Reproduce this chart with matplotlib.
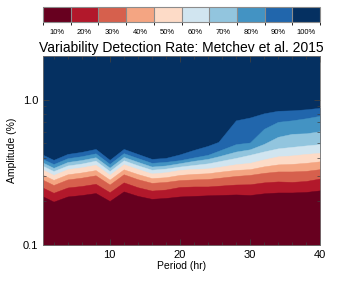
import matplotlib
matplotlib.use('Agg')
import matplotlib.pyplot as plt
import numpy as np
from matplotlib.colors import ListedColormap, BoundaryNorm
from matplotlib.cm import ScalarMappable
from matplotlib.ticker import MultipleLocator, FixedLocator, NullFormatter, FormatStrFormatter

plt.rcParams['font.family'] = ['Liberation Sans', 'DejaVu Sans']

# periods (hr) where the detection-rate contours were read
periods = [0.5, 2, 4, 6, 8, 10, 12, 14, 16, 18, 20, 22, 24, 25.5, 28, 30, 32, 34, 36, 38, 40]

# amplitude (%) of each detection-rate contour at those periods
amp_10 = [0.216, 0.199, 0.216, 0.221, 0.228, 0.201, 0.234, 0.218, 0.208, 0.211, 0.216,
          0.218, 0.220, 0.221, 0.223, 0.221, 0.227, 0.230, 0.230, 0.232, 0.238]
amp_20 = [0.248, 0.229, 0.249, 0.255, 0.264, 0.231, 0.270, 0.250, 0.237, 0.241, 0.251,
          0.253, 0.253, 0.256, 0.261, 0.262, 0.270, 0.274, 0.272, 0.276, 0.287]
amp_30 = [0.281, 0.259, 0.283, 0.291, 0.302, 0.261, 0.307, 0.284, 0.268, 0.272, 0.280,
          0.283, 0.285, 0.290, 0.299, 0.304, 0.314, 0.321, 0.321, 0.324, 0.333]
amp_40 = [0.304, 0.281, 0.307, 0.316, 0.328, 0.282, 0.332, 0.308, 0.289, 0.293, 0.304,
          0.309, 0.312, 0.319, 0.329, 0.333, 0.348, 0.359, 0.362, 0.368, 0.377]
amp_50 = [0.330, 0.304, 0.333, 0.343, 0.357, 0.305, 0.360, 0.334, 0.311, 0.317, 0.329,
          0.334, 0.337, 0.345, 0.360, 0.368, 0.389, 0.408, 0.414, 0.424, 0.431]
amp_60 = [0.350, 0.323, 0.353, 0.364, 0.381, 0.323, 0.383, 0.354, 0.330, 0.336, 0.347,
          0.356, 0.365, 0.377, 0.398, 0.418, 0.441, 0.463, 0.474, 0.485, 0.495]
amp_70 = [0.369, 0.340, 0.373, 0.385, 0.402, 0.341, 0.404, 0.374, 0.347, 0.353, 0.366,
          0.380, 0.392, 0.408, 0.440, 0.456, 0.497, 0.556, 0.583, 0.588, 0.607]
amp_80 = [0.390, 0.361, 0.396, 0.409, 0.428, 0.362, 0.429, 0.397, 0.368, 0.374, 0.384,
          0.401, 0.418, 0.445, 0.495, 0.508, 0.631, 0.705, 0.722, 0.746, 0.776]
amp_90 = [0.418, 0.386, 0.424, 0.438, 0.459, 0.386, 0.459, 0.424, 0.392, 0.398, 0.421,
          0.452, 0.482, 0.513, 0.722, 0.755, 0.807, 0.840, 0.846, 0.860, 0.881]

rate_labels = ['10%', '20%', '30%', '40%', '50%', '60%', '70%', '80%', '90%', '100%']
colors = ['#67001f', '#b2182b', '#d6604d', '#f4a582', '#fddbc7',
          '#d1e5f0', '#92c5de', '#4393c3', '#2166ac', '#053061']

contours = [amp_10, amp_20, amp_30, amp_40, amp_50, amp_60, amp_70, amp_80, amp_90]
ymin, ymax = 0.1, 2.0

fig = plt.figure(figsize=(3.46, 2.81), dpi=100)
ax = fig.add_axes([0.1243, 0.128, 0.8006, 0.6726])

# top region first, then each lower band painted over it
ax.fill_between(periods, ymin, ymax, color=colors[9], linewidth=0)
for k in range(8, -1, -1):
    ax.fill_between(periods, ymin, contours[k], color=colors[k], linewidth=0.3,
                    edgecolor=colors[k])

ax.set_yscale('log')
ax.set_xlim(0.5, 40)
ax.set_ylim(ymin, ymax)
ax.xaxis.set_major_locator(FixedLocator([10, 20, 30, 40]))
ax.xaxis.set_minor_locator(MultipleLocator(2))
ax.yaxis.set_major_locator(FixedLocator([0.1, 1.0]))
ax.yaxis.set_major_formatter(FormatStrFormatter('%.1f'))
ax.yaxis.set_minor_formatter(NullFormatter())
ax.tick_params(which='both', direction='in', top=True, right=True, labelsize=8,
               color='0.25')
ax.tick_params(which='major', length=4, width=0.6)
ax.tick_params(which='minor', length=2, width=0.5)
for s in ax.spines.values():
    s.set_color('0.45')
    s.set_linewidth(0.6)

ax.set_xlabel('Period (hr)', fontsize=7.5, labelpad=1)
ax.set_ylabel('Amplitude (%)', fontsize=7.5, labelpad=4)
ax.set_title('Variability Detection Rate: Metchev et al. 2015', fontsize=10, pad=3)

# colorbar on top
cax = fig.add_axes([0.1243, 0.920, 0.8006, 0.0534])
bounds = np.linspace(0, 1, 11)
sm = ScalarMappable(norm=BoundaryNorm(bounds, 10), cmap=ListedColormap(colors))
cb = fig.colorbar(sm, cax=cax, orientation='horizontal', drawedges=True)
cb.set_ticks((bounds[:-1] + bounds[1:]) / 2)
cb.set_ticklabels(rate_labels)
cb.ax.tick_params(labelsize=5.5, length=0, pad=4.5)
cb.outline.set_edgecolor('0.55')
cb.outline.set_linewidth(0.8)
cb.dividers.set_color('0.55')
cb.dividers.set_linewidth(0.8)

fig.savefig('out.png', dpi=100)
